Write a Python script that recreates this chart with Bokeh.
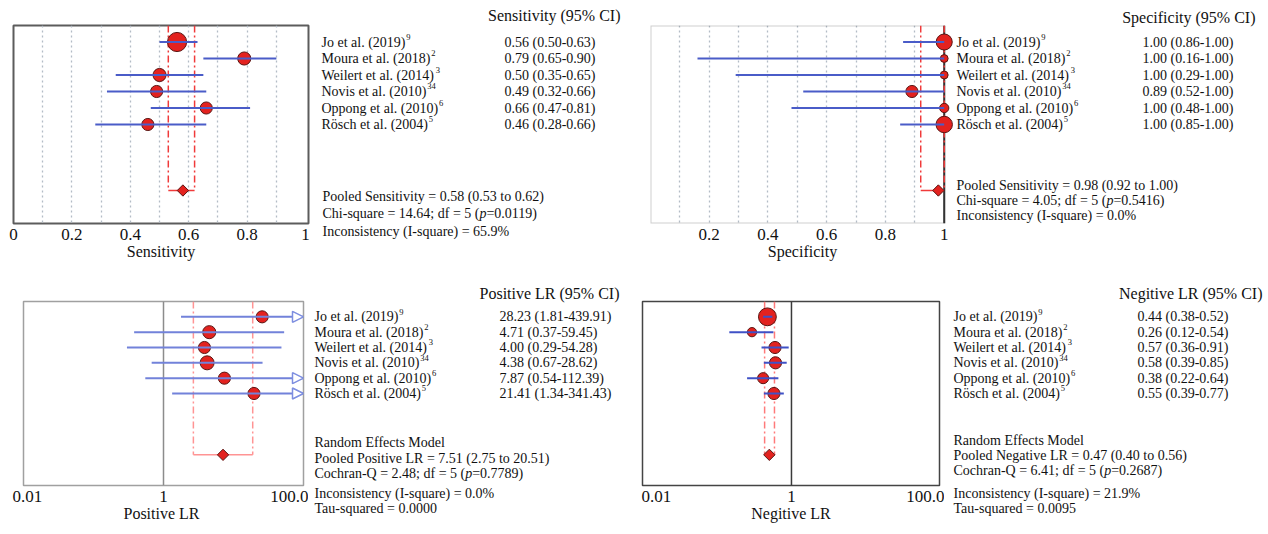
import numpy as np
from bokeh.plotting import figure
from bokeh.layouts import row, column
from bokeh.models import (Range1d, Span, Arrow, NormalHead, ColumnDataSource,
                          BoxAnnotation, FixedTicker, Label, Title)
from bokeh.embed import file_html
from bokeh.resources import INLINE

# ---------------- data ----------------
studies = ["Jo et al. (2019)", "Moura et al. (2018)", "Weilert et al. (2014)",
           "Novis et al. (2010)", "Oppong et al. (2010)", "Rösch et al. (2004)"]
study_refs = ["9", "2", "3", "34", "6", "5"]

sens_est = [0.56, 0.79, 0.50, 0.49, 0.66, 0.46]
sens_lo = [0.50, 0.65, 0.35, 0.32, 0.47, 0.28]
sens_hi = [0.63, 0.90, 0.65, 0.66, 0.81, 0.66]
sens_weight = [30, 14, 14, 12, 12, 12]
sens_pooled = [0.58, 0.53, 0.62]
sens_chi2, sens_p, sens_i2 = 14.64, 0.0119, 65.9

spec_est = [1.00, 1.00, 1.00, 0.89, 1.00, 1.00]
spec_lo = [0.86, 0.16, 0.29, 0.52, 0.48, 0.85]
spec_hi = [1.00, 1.00, 1.00, 1.00, 1.00, 1.00]
spec_weight = [21, 5, 5, 12, 7, 22]
spec_pooled = [0.98, 0.92, 1.00]
spec_chi2, spec_p, spec_i2 = 4.05, 0.5416, 0.0

plr_est = [28.23, 4.71, 4.00, 4.38, 7.87, 21.41]
plr_lo = [1.81, 0.37, 0.29, 0.67, 0.54, 1.34]
plr_hi = [439.91, 59.45, 54.28, 28.62, 112.39, 341.43]
plr_weight = [12, 14, 12, 16, 12, 12]
plr_pooled = [7.51, 2.75, 20.51]
plr_q, plr_p, plr_i2, plr_tau2 = 2.48, 0.7789, 0.0, 0.0000

nlr_est = [0.44, 0.26, 0.57, 0.58, 0.38, 0.55]
nlr_lo = [0.38, 0.12, 0.36, 0.39, 0.22, 0.39]
nlr_hi = [0.52, 0.54, 0.91, 0.85, 0.64, 0.77]
nlr_weight = [26, 7, 12, 12, 10, 12]
nlr_pooled = [0.47, 0.40, 0.56]
nlr_q, nlr_p, nlr_i2, nlr_tau2 = 6.41, 0.2687, 21.9, 0.0095

prop_ticks = [0, 0.2, 0.4, 0.6, 0.8, 1]
prop_labels = ["0", "0.2", "0.4", "0.6", "0.8", "1"]
prop_grid = [0.1, 0.2, 0.3, 0.4, 0.5, 0.6, 0.7, 0.8, 0.9]
lr_ticks = [0.01, 1, 100]
lr_labels = ["0.01", "1", "100.0"]

# ---------------- style ----------------
FONT = "Liberation Serif"
Y_TOP, Y_BOT = -1, 11
POOL_ROW = 9
rows = list(range(len(studies)))
RED_FILL = "#e3221f"
RED_EDGE = "#5a1512"
TXT = "#111111"

TW = {' ': 250, '(': 333, ')': 333, '-': 333, '.': 250, ';': 278, '=': 564, '%': 833,
      ',': 250, ':': 278,
      'C': 667, 'I': 333, 'J': 389, 'L': 611, 'M': 889, 'N': 722, 'O': 722, 'P': 556,
      'Q': 722, 'R': 667, 'S': 556, 'T': 611, 'W': 944, 'E': 611, 'D': 722,
      'a': 444, 'b': 500, 'c': 444, 'd': 500, 'e': 444, 'f': 333, 'g': 500, 'h': 500,
      'i': 278, 'j': 278, 'k': 500, 'l': 278, 'm': 778, 'n': 500, 'o': 500, 'p': 500,
      'q': 500, 'r': 333, 's': 389, 't': 278, 'u': 500, 'v': 500, 'w': 722, 'x': 500,
      'y': 500, 'z': 444, 'ö': 500}


def tw(s, size):
    return sum(TW.get(c, 500) for c in s) * size / 1000.0


def forest(est, lo, hi, weight, pooled, *, width, height, bl, br, bt, bb, x_range,
           log, ticks, tick_labels, xlabel, ci_color, red_color, arrow_limit=None,
           head_color=None):
    p = figure(width=width, height=height, x_range=x_range,
               y_range=Range1d(Y_BOT, Y_TOP),
               x_axis_type="log" if log else "linear",
               min_border_left=bl, min_border_right=br, min_border_top=bt,
               min_border_bottom=bb, toolbar_location=None, output_backend="svg",
               y_axis_location=None, background_fill_color="white",
               border_fill_color="white")
    p.ygrid.visible = False
    ax = p.xaxis[0]
    ax.ticker = FixedTicker(ticks=ticks)
    ax.major_label_overrides = dict(zip(ticks, tick_labels))
    ax.axis_line_color = None
    ax.major_tick_line_color = None
    ax.minor_tick_line_color = None
    ax.major_tick_out = 0
    ax.major_tick_in = 0
    ax.major_label_standoff = 5
    ax.major_label_text_font = FONT
    ax.major_label_text_font_size = "17px"
    ax.major_label_text_color = TXT
    ax.axis_label = xlabel
    ax.axis_label_standoff = 0
    ax.axis_label_text_font = FONT
    ax.axis_label_text_font_size = "16px"
    ax.axis_label_text_font_style = "normal"
    ax.axis_label_text_color = TXT

    xend = x_range.end
    hi_draw = [xend if (arrow_limit is not None and h > arrow_limit) else h for h in hi]
    sizes = [3.5 * np.sqrt(v) for v in weight]
    src = ColumnDataSource(dict(y=rows, est=est, lo=lo, hi=hi_draw, size=sizes))

    pe, pl, ph = pooled
    p.segment(x0=[pl, ph], y0=[Y_TOP, Y_TOP], x1=[pl, ph], y1=[POOL_ROW, POOL_ROW],
              line_color=red_color, line_width=1.5, line_dash="7 3 2 3")
    p.segment(x0=[pl], y0=[POOL_ROW], x1=[ph], y1=[POOL_ROW],
              line_color=red_color, line_width=1.5)
    p.scatter("est", "y", size="size", source=src, marker="circle",
              fill_color=RED_FILL, line_color=RED_EDGE, line_width=1)
    p.segment("lo", "y", "hi", "y", source=src, line_color=ci_color, line_width=2)
    p.scatter([pe], [POOL_ROW], marker="square", angle=np.pi / 4, size=8,
              fill_color=RED_FILL, line_color=RED_EDGE, line_width=1)

    if arrow_limit is not None:
        for i, h in enumerate(hi):
            if h > arrow_limit:
                p.add_layout(Arrow(end=NormalHead(size=11, fill_color="white",
                                                  line_color=head_color, line_width=1.5),
                                   x_start=lo[i], y_start=i, x_end=xend, y_end=i,
                                   line_alpha=0))
    return p


def lab(t, x, y, text, size, align="left", italic=False):
    t.add_layout(Label(x=x, y=y, text=text, text_font=FONT,
                       text_font_size=f"{size}px", text_align=align,
                       text_baseline="middle", text_color=TXT,
                       text_font_style="italic" if italic else "normal"))


def text_panel(width, height, bt, bb, *, title, title_right, title_standoff, name_x,
               vals, val_x, stat_x, stat_rows, stat_lines, below_lines=(),
               below_standoffs=(), fs=14):
    t = figure(width=width, height=height, x_range=Range1d(0, width),
               y_range=Range1d(Y_BOT, Y_TOP), title=title,
               min_border_left=0, min_border_right=0, min_border_top=bt,
               min_border_bottom=bb,
               toolbar_location=None, output_backend="svg",
               x_axis_location=None, y_axis_location=None,
               outline_line_color=None, background_fill_color="white",
               border_fill_color="white")
    t.grid.visible = False
    t.title.align = "right"
    t.title.offset = width - title_right
    t.title.standoff = title_standoff
    t.title.vertical_align = "bottom"
    t.title.text_font = FONT
    t.title.text_font_size = "16px"
    t.title.text_font_style = "normal"
    t.title.text_color = TXT
    for r, name, sup, v in zip(rows, studies, study_refs, vals):
        lab(t, name_x, r, name, fs)
        lab(t, name_x + tw(name, fs) + 0.8, r - 0.33, sup, 8.5)
        lab(t, val_x, r, v, fs)
    for r, line in zip(stat_rows, stat_lines):
        x = stat_x
        for piece, italic in line:
            lab(t, x, r, piece, fs, italic=italic)
            x += tw(piece, fs)
    for text, so in zip(below_lines, below_standoffs):
        t.add_layout(Title(text=text, align="left", offset=stat_x, standoff=so,
                           vertical_align="top", text_font=FONT,
                           text_font_size=f"{fs}px", text_font_style="normal",
                           text_color=TXT), "below")
    return t


def fmt_vals(est, lo, hi):
    return [f"{e:.2f} ({l:.2f}-{h:.2f})" for e, l, h in zip(est, lo, hi)]


TOP_H, TOP_BT, TOP_BB = 268, 25, 45
BOT_H, BOT_BT, BOT_BB = 264, 33, 47

# ---------------- Sensitivity ----------------
p1 = forest(sens_est, sens_lo, sens_hi, sens_weight, sens_pooled,
            width=316, height=TOP_H, bl=13, br=8, bt=TOP_BT, bb=TOP_BB,
            x_range=Range1d(0, 1.01), log=False, ticks=prop_ticks,
            tick_labels=prop_labels, xlabel="Sensitivity",
            ci_color="#4a5cc8", red_color="#f03a3a")
p1.outline_line_color = "#5c5c5c"
p1.outline_line_width = 2
p1.xgrid.ticker = FixedTicker(ticks=prop_grid)
p1.xgrid.grid_line_color = "#b3bcc6"
p1.xgrid.grid_line_dash = "2 3"
p1.xgrid.grid_line_width = 1.3

t1 = text_panel(328, TOP_H, TOP_BT, TOP_BB, title="Sensitivity (95% CI)",
                title_right=304, title_standoff=4, name_x=5,
                vals=fmt_vals(sens_est, sens_lo, sens_hi),
                val_x=188, stat_x=6, stat_rows=[9.36, 10.39],
                stat_lines=[
                    [(f"Pooled Sensitivity = {sens_pooled[0]:.2f} ({sens_pooled[1]:.2f} to {sens_pooled[2]:.2f})", False)],
                    [(f"Chi-square = {sens_chi2:.2f}; df = 5 (", False), ("p", True), (f"={sens_p:.4f})", False)],
                ],
                below_lines=[f"Inconsistency (I-square) = {sens_i2:.1f}%"],
                below_standoffs=[0])

# ---------------- Specificity ----------------
p2 = forest(spec_est, spec_lo, spec_hi, spec_weight, spec_pooled,
            width=310, height=TOP_H, bl=6, br=0, bt=TOP_BT, bb=TOP_BB,
            x_range=Range1d(0, 1.035), log=False, ticks=prop_ticks[1:],
            tick_labels=prop_labels[1:], xlabel="Specificity",
            ci_color="#4a5cc8", red_color="#f03a3a")
p2.outline_line_color = None
p2.xgrid.ticker = FixedTicker(ticks=prop_grid)
p2.xgrid.grid_line_color = "#b3bcc6"
p2.xgrid.grid_line_dash = "2 3"
p2.xgrid.grid_line_width = 1.3
p2.add_layout(BoxAnnotation(left=0, right=1, top=Y_TOP, bottom=Y_BOT, fill_color=None,
                            fill_alpha=0, line_color="#5c5c5c", line_width=2,
                            level="underlay"))
p2.add_layout(Span(location=1, dimension="height", line_color="#333333",
                   line_width=2, level="underlay"))

t2 = text_panel(312, TOP_H, TOP_BT, TOP_BB, title="Specificity (95% CI)",
                title_right=301, title_standoff=0, name_x=2,
                vals=fmt_vals(spec_est, spec_lo, spec_hi),
                val_x=188, stat_x=2, stat_rows=[8.70, 9.61, 10.52],
                stat_lines=[
                    [(f"Pooled Sensitivity = {spec_pooled[0]:.2f} ({spec_pooled[1]:.2f} to {spec_pooled[2]:.2f})", False)],
                    [(f"Chi-square = {spec_chi2:.2f}; df = 5 (", False), ("p", True), (f"={spec_p:.4f})", False)],
                    [(f"Inconsistency (I-square) = {spec_i2:.1f}%", False)],
                ])

# ---------------- Positive LR ----------------
p3 = forest(plr_est, plr_lo, plr_hi, plr_weight, plr_pooled,
            width=308, height=BOT_H, bl=23, br=5, bt=BOT_BT, bb=BOT_BB,
            x_range=Range1d(10 ** -2.0588, 10 ** 2.0588), log=True, ticks=lr_ticks,
            tick_labels=lr_labels, xlabel="Positive  LR",
            ci_color="#7282da", red_color="#ff9494", arrow_limit=lr_ticks[-1],
            head_color="#7d8ee0")
p3.outline_line_color = "#a0a0a0"
p3.outline_line_width = 1.5
p3.xgrid.visible = False
p3.add_layout(Span(location=1, dimension="height", line_color="#8c8c8c",
                   line_width=1.5, level="underlay"))

t3 = text_panel(324, BOT_H, BOT_BT, BOT_BB, title="Positive LR (95% CI)",
                title_right=311, title_standoff=0, name_x=6,
                vals=fmt_vals(plr_est, plr_lo, plr_hi),
                val_x=191, stat_x=6, stat_rows=[8.20, 9.24, 10.22],
                stat_lines=[
                    [("Random Effects Model", False)],
                    [(f"Pooled Positive LR = {plr_pooled[0]:.2f} ({plr_pooled[1]:.2f} to {plr_pooled[2]:.2f})", False)],
                    [(f"Cochran-Q = {plr_q:.2f}; df = 5 (", False), ("p", True), (f"={plr_p:.4f})", False)],
                ],
                below_lines=[f"Inconsistency (I-square) = {plr_i2:.1f}%",
                             f"Tau-squared = {plr_tau2:.4f}"],
                below_standoffs=[0, -4])

# ---------------- Negative LR ----------------
p4 = forest(nlr_est, nlr_lo, nlr_hi, nlr_weight, nlr_pooled,
            width=312, height=BOT_H, bl=10, br=5, bt=BOT_BT, bb=BOT_BB,
            x_range=Range1d(10 ** -2.207, 10 ** 2.193), log=True, ticks=lr_ticks,
            tick_labels=lr_labels, xlabel="Negitive LR",
            ci_color="#3f51c6", red_color="#ff7a7a")
p4.outline_line_color = "#444444"
p4.outline_line_width = 1.5
p4.xgrid.visible = False
p4.add_layout(Span(location=1, dimension="height", line_color="#3a3a3a",
                   line_width=1.5, level="underlay"))

t4 = text_panel(322, BOT_H, BOT_BT, BOT_BB, title="Negitive LR (95% CI)",
                title_right=318, title_standoff=0, name_x=9,
                vals=fmt_vals(nlr_est, nlr_lo, nlr_hi),
                val_x=193, stat_x=9, stat_rows=[8.07, 9.05, 10.02],
                stat_lines=[
                    [("Random Effects Model", False)],
                    [(f"Pooled Negative LR = {nlr_pooled[0]:.2f} ({nlr_pooled[1]:.2f} to {nlr_pooled[2]:.2f})", False)],
                    [(f"Cochran-Q = {nlr_q:.2f}; df = 5 (", False), ("p", True), (f"={nlr_p:.4f})", False)],
                ],
                below_lines=[f"Inconsistency (I-square) = {nlr_i2:.1f}%",
                             f"Tau-squared = {nlr_tau2:.4f}"],
                below_standoffs=[0, -4])

layout = column(row(p1, t1, p2, t2, spacing=0), row(p3, t3, p4, t4, spacing=0), spacing=0)

open("out.html", "w").write(file_html(layout, INLINE))
